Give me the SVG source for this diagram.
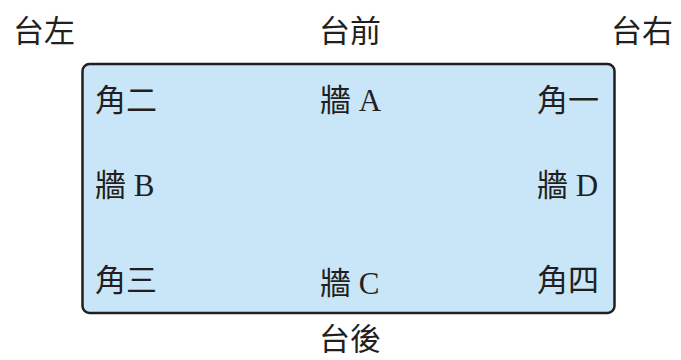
<svg xmlns="http://www.w3.org/2000/svg" width="681" height="360" viewBox="0 0 681 360">
<style>
.t{font-family:"Liberation Serif","Noto Sans CJK TC",serif;font-size:31px;fill:#231f20}
.box{fill:#c9e6f8;stroke:#231f20;stroke-width:2.5}
</style>
<rect width="681" height="360" fill="#fff"/>
<g id="stage">
<rect class="box" x="82.5" y="64" width="532" height="249" rx="7"/>
</g>
<g id="label-left"><text class="t" x="13" y="42">台左</text></g>
<g id="label-front"><text class="t" x="350" y="42" text-anchor="middle">台前</text></g>
<g id="label-right"><text class="t" x="611" y="42">台右</text></g>
<g id="label-back"><text class="t" x="350" y="350" text-anchor="middle">台後</text></g>
<g id="corner2"><text class="t" x="95" y="111">角二</text></g>
<g id="wallA"><text class="t" x="320" y="111">牆 A</text></g>
<g id="corner1"><text class="t" x="537" y="111">角一</text></g>
<g id="wallB"><text class="t" x="95" y="196">牆 B</text></g>
<g id="wallD"><text class="t" x="537" y="196">牆 D</text></g>
<g id="corner3"><text class="t" x="95" y="291">角三</text></g>
<g id="wallC"><text class="t" x="320" y="294">牆 C</text></g>
<g id="corner4"><text class="t" x="537" y="291">角四</text></g>
</svg>
